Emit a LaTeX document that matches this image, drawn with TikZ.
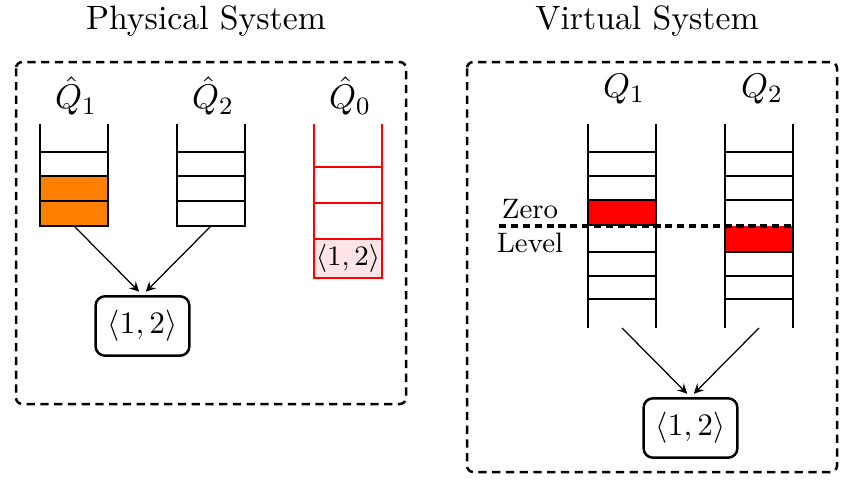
\documentclass[tikz,border=0pt]{standalone}
\usepackage{tikz}

\begin{document}
\begin{tikzpicture}[x=0.32pt, y=-0.32pt,
   title/.style={font=\fontsize{10.8}{13}\selectfont},
   qlabel/.style={font=\fontsize{10.8}{13}\selectfont},
   wall/.style={thick},
   frame/.style={thick, dash pattern=on 2.6pt off 1.8pt, rounded corners=2pt},
   pairbox/.style={draw, thick, rounded corners=3pt, minimum width=30pt, minimum height=19pt, inner sep=1pt},
   zeroline/.style={very thick, dash pattern=on 2.3pt off 1.5pt},
   feed/.style={-stealth, shorten >=1.5pt}]
   \useasboundingbox (0,0) rectangle (843,480);

   % Titles
   \node[title] (phys) at (206,21) {Physical System};
   \node[title] (virt) at (647,21) {Virtual System};

   % Frames
   \draw[frame] (16,62) rectangle (406,404);
   \draw[frame] (467,62) rectangle (837,472);

   % Labels of the physical queues
   \node[qlabel] (qh1) at (76,96) {$\hat{Q}_1$};
   \node[qlabel] (qh2) at (213,96) {$\hat{Q}_2$};
   \node[qlabel] (qh0) at (350,96) {$\hat{Q}_0$};

   % Queue Q1 hat
   \fill[orange] (40,176) rectangle (108,226);
   \draw[wall] (40,124) -- (40,226) -- (108,226) -- (108,124);
   \draw[wall] (40,152) -- (108,152);
   \draw[wall] (40,176) -- (108,176);
   \draw[wall] (40,201) -- (108,201);
   \coordinate (qh1b) at (74,226);

   % Queue Q2 hat
   \draw[wall] (177,124) -- (177,226) -- (245,226) -- (245,124);
   \draw[wall] (177,152) -- (245,152);
   \draw[wall] (177,176) -- (245,176);
   \draw[wall] (177,201) -- (245,201);
   \coordinate (qh2b) at (211,226);

   % Queue Q0 hat
   \fill[red!10] (314,239) rectangle (382,278);
   \draw[wall, red] (314,124) -- (314,278) -- (382,278) -- (382,124);
   \draw[wall, red] (314,167) -- (382,167);
   \draw[wall, red] (314,203) -- (382,203);
   \draw[wall, red] (314,239) -- (382,239);
   \node[font=\small] (qh0c) at (348,258.5) {$\langle 1,2\rangle$};

   % Served pair
   \node[pairbox] (out1) at (142.5,326) {$\langle 1,2\rangle$};
   \draw[feed] (qh1b) -- (out1.north);
   \draw[feed] (qh2b) -- (out1.north);

   % Labels of the virtual queues
   \node[qlabel] (q1) at (624,89) {$Q_1$};
   \node[qlabel] (q2) at (762,89) {$Q_2$};

   % Queue Q1
   \fill[red] (588,200) rectangle (656,225);
   \draw[wall] (588,124) -- (588,328);
   \draw[wall] (656,124) -- (656,328);
   \draw[wall] (588,152) -- (656,152);
   \draw[wall] (588,176) -- (656,176);
   \draw[wall] (588,200) -- (656,200);
   \draw[wall] (588,225) -- (656,225);
   \draw[wall] (588,252) -- (656,252);
   \draw[wall] (588,276) -- (656,276);
   \draw[wall] (588,299) -- (656,299);
   \coordinate (q1b) at (622,328);

   % Queue Q2
   \fill[red] (725,226) rectangle (793,252);
   \draw[wall] (725,124) -- (725,328);
   \draw[wall] (793,124) -- (793,328);
   \draw[wall] (725,152) -- (793,152);
   \draw[wall] (725,176) -- (793,176);
   \draw[wall] (725,200) -- (793,200);
   \draw[wall] (725,252) -- (793,252);
   \draw[wall] (725,276) -- (793,276);
   \draw[wall] (725,299) -- (793,299);
   \coordinate (q2b) at (759,328);

   % Zero level
   \draw[zeroline] (499,226) -- (793,226);
   \node[font=\small] (zero) at (530,209) {Zero};
   \node[font=\small] (level) at (530,243) {Level};

   % Served pair
   \node[pairbox] (out2) at (690.5,428) {$\langle 1,2\rangle$};
   \draw[feed] (q1b) -- (out2.north);
   \draw[feed] (q2b) -- (out2.north);
\end{tikzpicture}
\end{document}
